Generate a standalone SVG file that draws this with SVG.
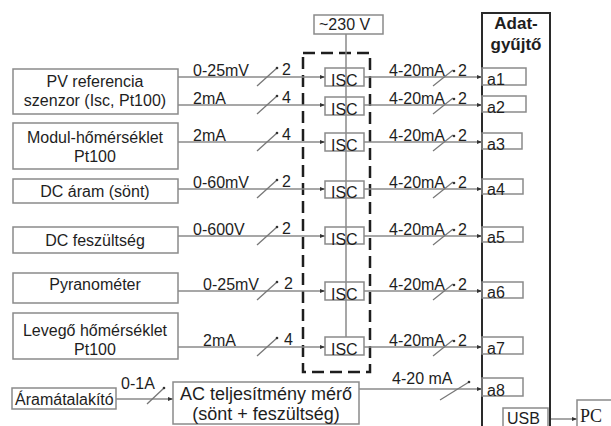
<svg xmlns="http://www.w3.org/2000/svg" width="611" height="426" viewBox="0 0 611 426">
<defs>
<style>
text{font-family:"Liberation Sans",Arial,sans-serif;fill:#1e1e1e;font-size:16px}
.box{fill:none;stroke:#8a8a8a;stroke-width:1.5}
.ln{fill:none;stroke:#8a8a8a;stroke-width:1.5}
.sl{fill:none;stroke:#777;stroke-width:1.3}
.dash{fill:none;stroke:#1e1e1e;stroke-width:2.5;stroke-dasharray:12 6}
.mid{text-anchor:middle}
.bold{font-weight:bold;font-size:17px}
.big{font-size:18px}
</style>
<marker id="ah" markerWidth="5" markerHeight="5" refX="5" refY="2.5" orient="auto" markerUnits="userSpaceOnUse">
<path d="M0,0.5 L5,2.5 L0,4.5 z" fill="#333"/>
</marker>
</defs>
<rect width="611" height="426" fill="#fff"/>

<!-- supply -->
<g id="supply">
<rect class="box" x="314" y="15" width="69" height="19"/>
<text x="319" y="30">~230 V</text>
</g>
<g id="isc-frame">
<rect class="dash" x="303" y="53" width="67" height="319"/>
</g>

<!-- connectors -->
<g id="connectors">
<line class="ln" x1="346" y1="34" x2="346" y2="337" stroke="#aaa"/>
<line class="ln" x1="178" y1="77" x2="325" y2="77" marker-end="url(#ah)"/>
<line class="ln" x1="178" y1="105" x2="325" y2="105" marker-end="url(#ah)"/>
<line class="ln" x1="178" y1="142" x2="325" y2="142" marker-end="url(#ah)"/>
<line class="ln" x1="178" y1="189" x2="325" y2="189" marker-end="url(#ah)"/>
<line class="ln" x1="178" y1="236" x2="325" y2="236" marker-end="url(#ah)"/>
<line class="ln" x1="178" y1="291" x2="325" y2="291" marker-end="url(#ah)"/>
<line class="ln" x1="178" y1="347" x2="325" y2="347" marker-end="url(#ah)"/>
<line class="ln" x1="364" y1="77" x2="482" y2="77" marker-end="url(#ah)"/>
<line class="ln" x1="364" y1="105" x2="482" y2="105" marker-end="url(#ah)"/>
<line class="ln" x1="364" y1="142" x2="482" y2="142" marker-end="url(#ah)"/>
<line class="ln" x1="364" y1="189" x2="482" y2="189" marker-end="url(#ah)"/>
<line class="ln" x1="364" y1="236" x2="482" y2="236" marker-end="url(#ah)"/>
<line class="ln" x1="364" y1="291" x2="482" y2="291" marker-end="url(#ah)"/>
<line class="ln" x1="364" y1="347" x2="482" y2="347" marker-end="url(#ah)"/>
<line class="ln" x1="359" y1="389" x2="482" y2="389" marker-end="url(#ah)"/>
<line class="ln" x1="116" y1="399" x2="173" y2="399" marker-end="url(#ah)"/>
<line class="ln" x1="550" y1="419" x2="577" y2="419" marker-end="url(#ah)"/>
<!-- bus slashes -->
<g class="sl">
<line x1="257" y1="86" x2="277" y2="68"/><line x1="257" y1="114" x2="277" y2="96"/>
<line x1="257" y1="151" x2="277" y2="133"/><line x1="257" y1="198" x2="277" y2="180"/>
<line x1="257" y1="245" x2="277" y2="227"/><line x1="257" y1="300" x2="277" y2="282"/>
<line x1="257" y1="356" x2="277" y2="338"/>
<line x1="433" y1="86" x2="453" y2="70"/><line x1="433" y1="114" x2="453" y2="98"/>
<line x1="433" y1="151" x2="453" y2="135"/><line x1="433" y1="198" x2="453" y2="182"/>
<line x1="433" y1="245" x2="453" y2="229"/><line x1="433" y1="300" x2="453" y2="284"/>
<line x1="433" y1="356" x2="453" y2="340"/>
<line x1="440" y1="400" x2="469" y2="382"/>
<line x1="147" y1="404" x2="164" y2="388"/>
</g>
<g fill="#333">
<circle cx="277" cy="68" r="1.3"/><circle cx="277" cy="96" r="1.3"/><circle cx="277" cy="133" r="1.3"/>
<circle cx="277" cy="180" r="1.3"/><circle cx="277" cy="227" r="1.3"/><circle cx="277" cy="282" r="1.3"/>
<circle cx="277" cy="338" r="1.3"/>
<circle cx="454" cy="71" r="1.3"/><circle cx="454" cy="99" r="1.3"/><circle cx="454" cy="136" r="1.3"/>
<circle cx="454" cy="183" r="1.3"/><circle cx="454" cy="230" r="1.3"/><circle cx="454" cy="285" r="1.3"/>
<circle cx="454" cy="341" r="1.3"/><circle cx="469" cy="382" r="1.3"/><circle cx="164" cy="388" r="1.3"/>
</g>
<!-- labels -->
<text x="193" y="76">0-25mV</text><text x="282" y="75">2</text>
<text x="193" y="104">2mA</text><text x="282" y="103">4</text>
<text x="193" y="141">2mA</text><text x="282" y="140">4</text>
<text x="193" y="188">0-60mV</text><text x="282" y="187">2</text>
<text x="193" y="235">0-600V</text><text x="282" y="234">2</text>
<text x="203" y="290">0-25mV</text><text x="284" y="289">2</text>
<text x="203" y="346">2mA</text><text x="284" y="345">4</text>
<text x="389" y="76" font-size="17">4-20mA</text><text x="458" y="76" font-size="17">2</text>
<text x="389" y="104" font-size="17">4-20mA</text><text x="458" y="104" font-size="17">2</text>
<text x="389" y="141" font-size="17">4-20mA</text><text x="458" y="141" font-size="17">2</text>
<text x="389" y="188" font-size="17">4-20mA</text><text x="458" y="188" font-size="17">2</text>
<text x="389" y="235" font-size="17">4-20mA</text><text x="458" y="235" font-size="17">2</text>
<text x="389" y="290" font-size="17">4-20mA</text><text x="458" y="290" font-size="17">2</text>
<text x="389" y="346" font-size="17">4-20mA</text><text x="458" y="346" font-size="17">2</text>
<text x="392" y="384">4-20 mA</text>
<text x="121" y="389">0-1A</text>
</g>

<!-- sensors -->
<g id="pv-ref"><rect class="box" x="13" y="69" width="165" height="45"/>
<text class="mid" x="95" y="87">PV referencia</text><text class="mid" x="95" y="106">szenzor (Isc, Pt100)</text></g>
<g id="modul-temp"><rect class="box" x="13" y="123" width="165" height="46"/>
<text class="mid" x="95" y="143">Modul-hőmérséklet</text><text class="mid" x="95" y="162">Pt100</text></g>
<g id="dc-current"><rect class="box" x="13" y="179" width="165" height="24"/>
<text class="mid" x="95" y="197">DC áram (sönt)</text></g>
<g id="dc-voltage"><rect class="box" x="13" y="227" width="165" height="26"/>
<text class="mid" x="95" y="246">DC feszültség</text></g>
<g id="pyranometer"><rect class="box" x="13" y="273" width="165" height="30"/>
<text class="mid" x="95" y="290">Pyranométer</text></g>
<g id="air-temp"><rect class="box" x="13" y="313" width="165" height="46"/>
<text class="mid" x="95" y="336">Levegő hőmérséklet</text><text class="mid" x="95" y="355">Pt100</text></g>
<g id="ct"><rect class="box" x="12" y="388" width="104" height="21"/>
<text x="15" y="405">Áramátalakító</text></g>
<g id="ac-meter"><rect class="box" x="173" y="382" width="186" height="42"/>
<text class="mid big" x="266" y="400">AC teljesítmény mérő</text><text class="mid big" x="266" y="420">(sönt + feszültség)</text></g>

<!-- ISC modules -->
<g id="isc1"><rect class="box" x="325" y="68" width="39" height="18"/><text x="331" y="86">ISC</text></g>
<g id="isc2"><rect class="box" x="325" y="97" width="39" height="18"/><text x="331" y="115">ISC</text></g>
<g id="isc3"><rect class="box" x="325" y="133" width="39" height="18"/><text x="331" y="151">ISC</text></g>
<g id="isc4"><rect class="box" x="325" y="181" width="39" height="17"/><text x="331" y="198">ISC</text></g>
<g id="isc5"><rect class="box" x="325" y="227" width="39" height="17"/><text x="331" y="245">ISC</text></g>
<g id="isc6"><rect class="box" x="325" y="282" width="39" height="18"/><text x="331" y="300">ISC</text></g>
<g id="isc7"><rect class="box" x="325" y="337" width="39" height="18"/><text x="331" y="355">ISC</text></g>

<!-- data logger -->
<g id="datalogger">
<rect x="482" y="13" width="68" height="420" fill="none" stroke="#2a2a2a" stroke-width="2"/>
<text class="mid bold" x="516" y="29">Adat-</text><text class="mid bold" x="516" y="50">gyűjtő</text>
<rect class="box" x="482" y="68" width="44" height="17"/><text x="487" y="85">a1</text>
<rect class="box" x="482" y="96" width="44" height="16"/><text x="487" y="113">a2</text>
<rect class="box" x="482" y="133" width="40" height="16"/><text x="487" y="150">a3</text>
<rect class="box" x="482" y="179" width="41" height="15"/><text x="487" y="195">a4</text>
<rect class="box" x="482" y="227" width="41" height="15"/><text x="487" y="243">a5</text>
<rect class="box" x="482" y="282" width="41" height="16"/><text x="487" y="298">a6</text>
<rect class="box" x="482" y="337" width="41" height="17"/><text x="487" y="354">a7</text>
<rect class="box" x="482" y="378" width="41" height="18"/><text x="487" y="396">a8</text>
</g>
<g id="usb"><rect class="box" x="503" y="408" width="45" height="25"/><text x="507" y="424" font-size="16">USB</text></g>
<g id="pc"><rect class="box" x="577" y="400" width="45" height="33"/>
<text x="580" y="422" style="font-family:'Liberation Serif','Times New Roman',serif;font-size:18px">PC</text></g>
</svg>
